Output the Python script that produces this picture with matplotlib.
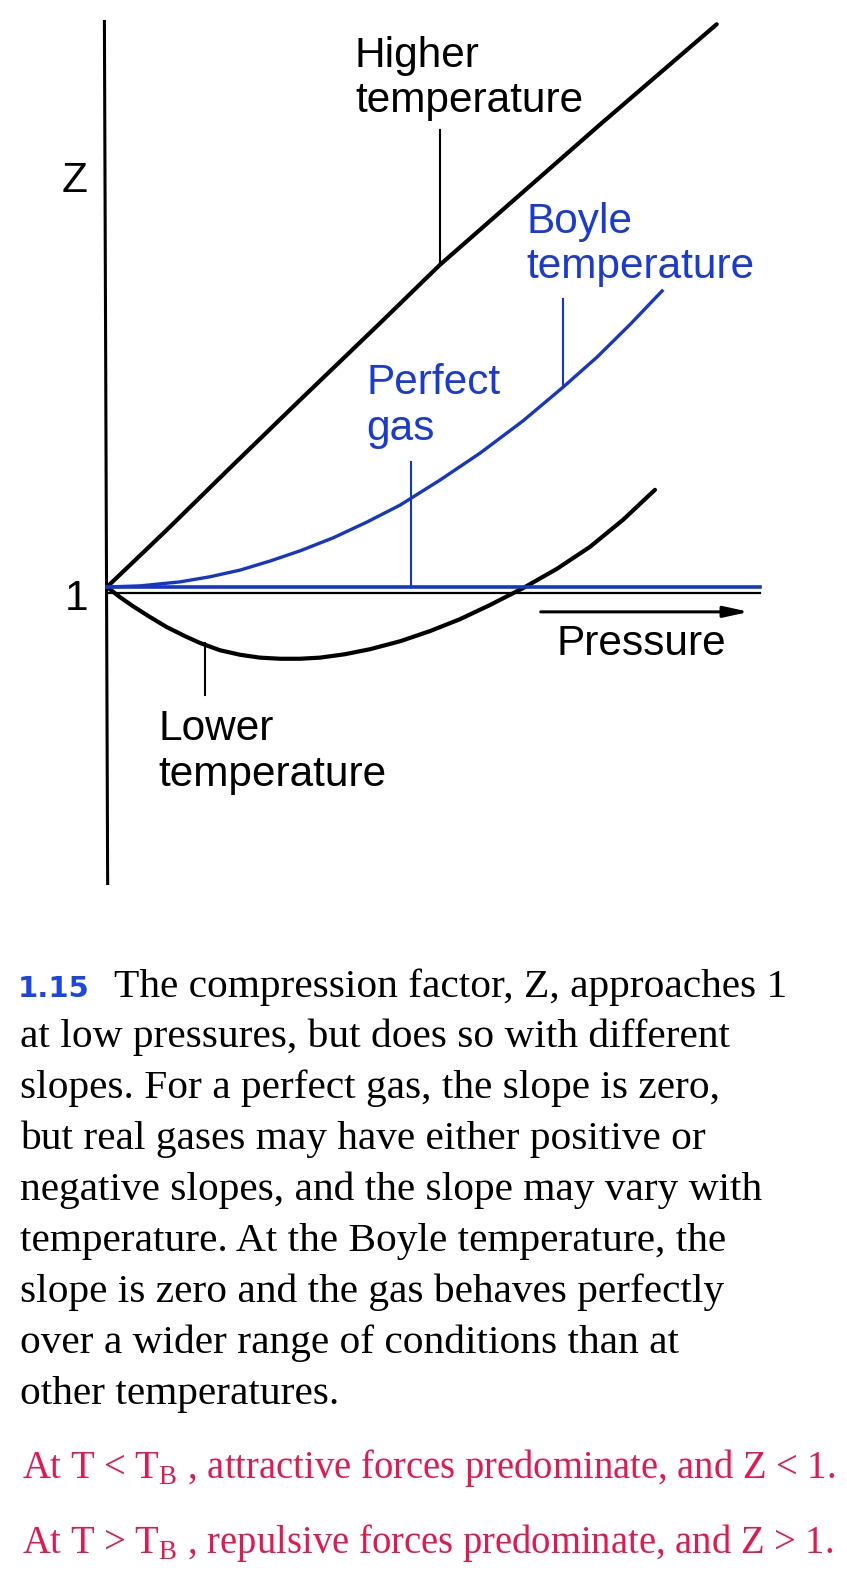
import matplotlib
matplotlib.use('Agg')
import matplotlib.pyplot as plt

plt.rcParams['mathtext.fontset'] = 'custom'
plt.rcParams['mathtext.rm'] = 'Liberation Serif'

W, H = 847, 1573
# pixel position of the origin (p = 0, Z = 1) and pixel size of one unit
X0, Y0, SX, SY = 107, 587, 650, 565

# curves: pressure (arbitrary units) and Z
p_high = [0, 0.092, 0.185, 0.297, 0.420, 0.512, 0.635, 0.758, 0.938]
z_high = [1, 1.101, 1.206, 1.331, 1.467, 1.570, 1.694, 1.818, 1.996]

p_boyle = [0, 0.051, 0.112, 0.158, 0.205, 0.251, 0.297, 0.348, 0.400,
           0.451, 0.512, 0.574, 0.640, 0.702, 0.754, 0.805, 0.854]
z_boyle = [1, 1.002, 1.009, 1.018, 1.030, 1.046, 1.064, 1.087, 1.115,
           1.145, 1.189, 1.237, 1.294, 1.354, 1.407, 1.465, 1.524]

p_low = [0, 0.020, 0.040, 0.066, 0.092, 0.120, 0.143, 0.174, 0.205, 0.235, 0.266, 0.297,
         0.328, 0.366, 0.405, 0.451, 0.497, 0.543, 0.589, 0.640, 0.692, 0.743, 0.794, 0.843]
z_low = [1, 0.982, 0.966, 0.947, 0.929, 0.913, 0.901, 0.888, 0.880, 0.875, 0.873, 0.873,
         0.875, 0.881, 0.890, 0.904, 0.922, 0.943, 0.968, 0.998, 1.032, 1.071, 1.119, 1.172]

p_perfect = [0, 1.005]
z_perfect = [1, 1]

# leader lines: pressure, Z top, Z bottom
leaders = [(0.512, 1.809, 1.570, 'black'),
           (0.701, 1.510, 1.356, 'blue'),
           (0.467, 1.221, 1.0, 'blue'),
           (0.151, 0.900, 0.809, 'black')]

caption = ["The compression factor, Z, approaches 1",
           "at low pressures, but does so with different",
           "slopes. For a perfect gas, the slope is zero,",
           "but real gases may have either positive or",
           "negative slopes, and the slope may vary with",
           "temperature. At the Boyle temperature, the",
           "slope is zero and the gas behaves perfectly",
           "over a wider range of conditions than at",
           "other temperatures."]
notes = [r"At T < T$_{\mathrm{B}}$ , attractive forces predominate, and Z < 1.",
         r"At T > T$_{\mathrm{B}}$ , repulsive forces predominate, and Z > 1."]

BLUE = '#1536c8'
LBLUE = '#1a3ad8'
RED = '#e6174f'

fig = plt.figure(figsize=(W / 100, H / 100), dpi=100)
ax = fig.add_axes([0, 0, 1, 1])
ax.set_xlim(-X0 / SX, (W - X0) / SX)
ax.set_ylim(1 - (H - Y0) / SY, 1 + Y0 / SY)
ax.axis('off')

def fx(x):
    return x / W

def fy(y):
    return 1 - y / H

# axes of the sketch
ax.plot([-0.004, 0.001], [1 + (Y0 - 20) / SY, 1 - (885 - Y0) / SY], color='black', lw=2.2, solid_capstyle='butt')
ax.plot([0, 1.005], [0.990, 0.990], color='black', lw=1.6)
ax.annotate('', xy=(0.992, 0.956), xytext=(0.663, 0.956),
            arrowprops=dict(arrowstyle='-|>,head_length=1.5,head_width=0.33', color='black', lw=2.2))

ax.plot(p_high, z_high, color='black', lw=3.0, solid_joinstyle='round', solid_capstyle='round')
ax.plot(p_low, z_low, color='black', lw=3.0, solid_joinstyle='round', solid_capstyle='round')
ax.plot(p_boyle, z_boyle, color=BLUE, lw=2.4, solid_joinstyle='round')
ax.plot(p_perfect, z_perfect, color=BLUE, lw=2.6)

for p, z1, z2, c in leaders:
    ax.plot([p, p], [z1, z2], color=BLUE if c == 'blue' else 'black', lw=1.5)

lab = dict(family='Liberation Sans', fontsize=30.5, va='baseline', ha='left')
fig.text(fx(62), fy(192), 'Z', **lab)
fig.text(fx(65), fy(610), '1', **lab)
fig.text(fx(354), fy(67), 'Higher', **lab)
fig.text(fx(355), fy(112), 'temperature', **lab)
fig.text(fx(526), fy(233), 'Boyle', color=LBLUE, **lab)
fig.text(fx(526), fy(278), 'temperature', color=LBLUE, **lab)
fig.text(fx(366), fy(394), 'Perfect', color=LBLUE, **lab)
fig.text(fx(366), fy(440), 'gas', color=LBLUE, **lab)
fig.text(fx(557), fy(655), 'Pressure', **lab)
fig.text(fx(158), fy(740), 'Lower', **lab)
fig.text(fx(158), fy(786), 'temperature', **lab)

# caption
fig.text(fx(18), fy(997), '1.15', family='DejaVu Sans', weight='bold', fontsize=21,
         color='#1a46e6', va='baseline', ha='left')
cap_size = 27.5
r = fig.canvas.get_renderer()
t = fig.text(fx(114), fy(997), caption[0], family='Liberation Serif', fontsize=cap_size, va='baseline')
wpx = t.get_window_extent(r).width
cap_size = cap_size * 676 / wpx
t.set_fontsize(cap_size)
for i, line in enumerate(caption[1:]):
    fig.text(fx(20), fy(1047 + 51 * i), line, family='Liberation Serif', fontsize=cap_size, va='baseline')

note_size = 25
t = fig.text(fx(22), fy(1478), notes[0], family='Liberation Serif', fontsize=note_size, color=RED, va='baseline')
wpx = t.get_window_extent(r).width
note_size = note_size * 813 / wpx
t.set_fontsize(note_size)
fig.text(fx(22), fy(1553), notes[1], family='Liberation Serif', fontsize=note_size, color=RED, va='baseline')

fig.savefig('out.png', dpi=100)
